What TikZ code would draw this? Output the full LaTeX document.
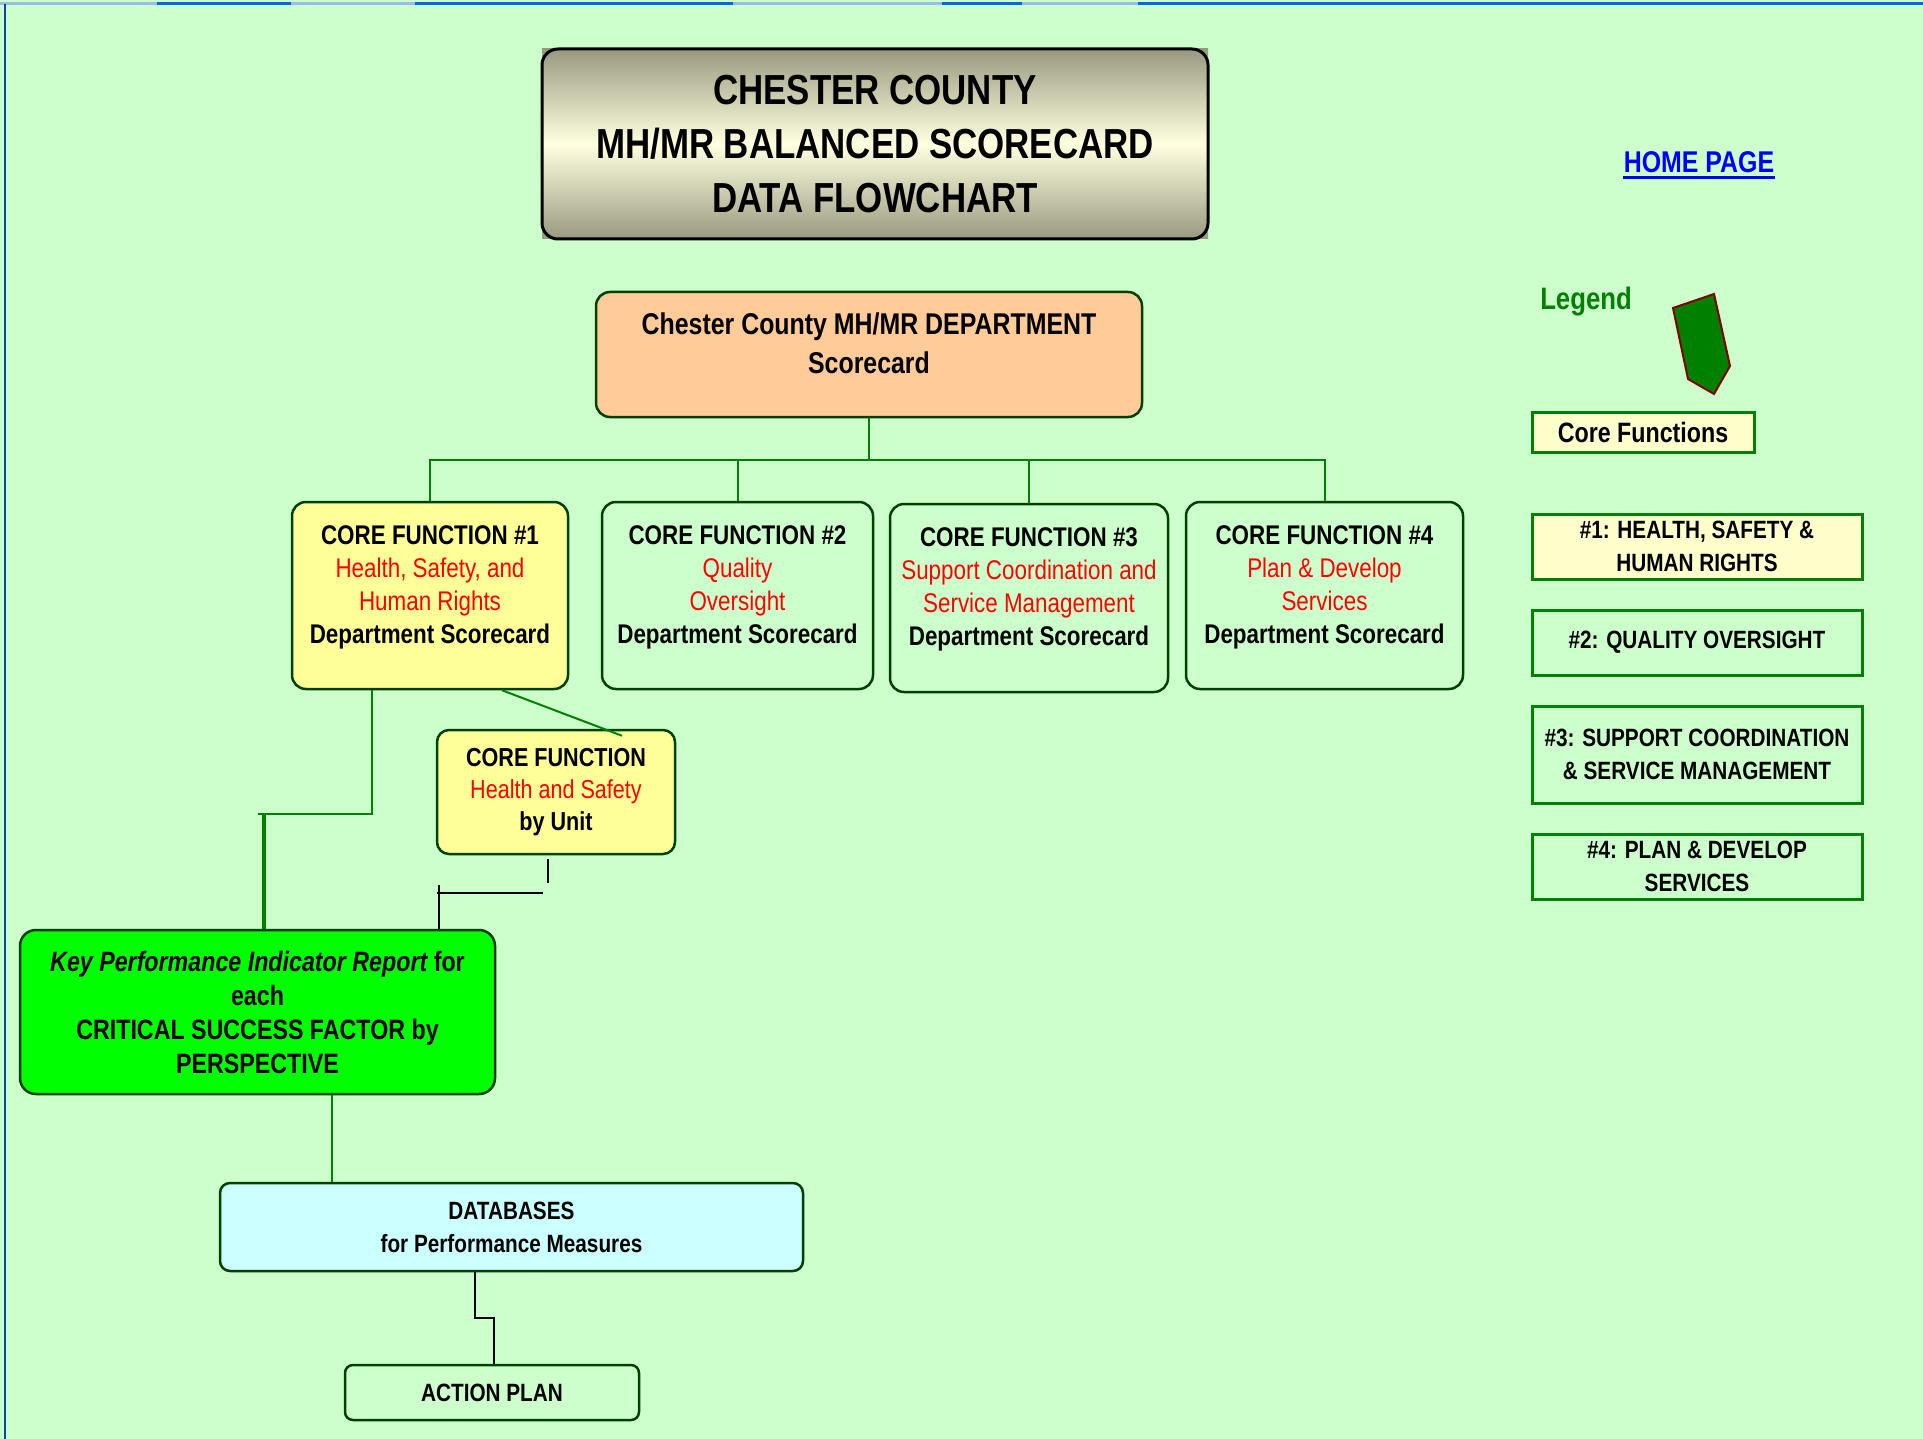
\documentclass[tikz,border=0pt]{standalone}
\usepackage{fontspec}
\setmainfont{Liberation Sans}[FakeStretch=0.83]
\usepackage{tikz}
\definecolor{pagegreen}{HTML}{CCFFCC}
\definecolor{dkgreen}{HTML}{004000}
\definecolor{midgreen}{HTML}{008000}
\definecolor{paleyellow}{HTML}{FFFF99}
\definecolor{creamy}{HTML}{FFFFCC}
\definecolor{peach}{HTML}{FFCC99}
\definecolor{palecyan}{HTML}{CCFFFF}
\definecolor{limegreen}{HTML}{00FF00}
\definecolor{khaki}{HTML}{99997F}
\definecolor{ivory}{HTML}{FFFFE0}
\definecolor{edgeblue}{HTML}{0066EE}
\definecolor{paleblue}{HTML}{99BBEE}
\definecolor{darkred}{HTML}{800000}
\newcommand{\padbottom}[1]{\\[#1]\mbox{}}

\begin{document}
\begin{tikzpicture}[x=1pt,y=-1pt,line width=2pt,
  box/.style={draw=dkgreen,line width=2.5pt,rounded corners=14pt,inner sep=0pt,align=center},
  corebox/.style={box,minimum width=276pt,minimum height=187pt,font=\fontsize{27}{33}\selectfont},
  keybox/.style={draw=midgreen,line width=3pt,inner sep=0pt,minimum width=330pt,align=center,font=\fontsize{25}{33}\selectfont\bfseries},
  wire/.style={draw=midgreen,line width=2pt},
  blackwire/.style={draw=black,line width=2pt}]
  \useasboundingbox (0,0) rectangle (1923,1439);
  \fill[pagegreen] (0,0) rectangle (1923,1439);
  \draw[edgeblue,line width=3pt] (0,4) -- (1923,4);
  \foreach \a/\b in {0/157,291/415,733/942,1022/1138}
    \draw[paleblue,line width=3pt] (\a,4) -- (\b,4);
  \draw[edgeblue!70!black,line width=2pt] (5,4) -- (5,1439);

  % title
  \shade[top color=khaki,bottom color=khaki,middle color=ivory] (542,49) rectangle (1208,239);
  \node (title) [draw,line width=3pt,rounded corners=16pt,top color=khaki,bottom color=khaki,middle color=ivory,
    minimum width=666pt,minimum height=190pt,inner sep=0pt,align=center,font=\fontsize{42}{54}\selectfont\bfseries]
    at (875,144) {CHESTER COUNTY\\MH/MR BALANCED SCORECARD\\DATA FLOWCHART};

  \node (dept) [box,fill=peach,minimum width=546pt,minimum height=125pt,font=\fontsize{30}{39}\selectfont\bfseries]
    at (869,354.5) {Chester County MH/MR DEPARTMENT\\Scorecard\padbottom{-17pt}};

  \node (cf1) [corebox,fill=paleyellow] at (430,595.5)
    {{\bfseries CORE FUNCTION \#1}\\{\color{red}Health, Safety, and}\\{\color{red}Human Rights}\\{\bfseries Department Scorecard}\padbottom{-11pt}};
  \node (cf2) [corebox,minimum width=271pt] at (737.5,595.5)
    {{\bfseries CORE FUNCTION \#2}\\{\color{red}Quality}\\{\color{red}Oversight}\\{\bfseries Department Scorecard}\padbottom{-11pt}};
  \node (cf3) [corebox,minimum width=278pt,minimum height=188pt] at (1029,598)
    {{\bfseries CORE FUNCTION \#3}\\{\color{red}Support Coordination and}\\{\color{red}Service Management}\\{\bfseries Department Scorecard}\padbottom{-11pt}};
  \node (cf4) [corebox,minimum width=277pt] at (1324.5,595.5)
    {{\bfseries CORE FUNCTION \#4}\\{\color{red}Plan \& Develop}\\{\color{red}Services}\\{\bfseries Department Scorecard}\padbottom{-11pt}};

  \node (unit) [box,fill=paleyellow,minimum width=238pt,minimum height=124pt,rounded corners=12pt,font=\fontsize{26}{32}\selectfont]
    at (556,792) {{\bfseries CORE FUNCTION}\\{\color{red}Health and Safety}\\{\bfseries by Unit}};

  \node (kpi) [box,fill=limegreen,minimum width=475pt,minimum height=164pt,rounded corners=16pt,font=\fontsize{28}{34}\selectfont\bfseries]
    at (257.5,1012) {{\itshape Key Performance Indicator Report} for\\each\\CRITICAL SUCCESS FACTOR by\\PERSPECTIVE};

  \node (db) [box,fill=palecyan,minimum width=583pt,minimum height=88pt,rounded corners=10pt,font=\fontsize{25}{33}\selectfont\bfseries]
    at (511.5,1227) {DATABASES\\for Performance Measures};

  \node (action) [box,minimum width=294pt,minimum height=55pt,rounded corners=8pt,font=\fontsize{25}{30}\selectfont\bfseries]
    at (492,1392.5) {ACTION PLAN};

  % legend
  \node (home) [anchor=base,text=blue,inner sep=0pt,font=\fontsize{30}{36}\selectfont\bfseries] at (1699,173) {HOME PAGE};
  \draw[blue,line width=3pt] ([yshift=-4.5pt]home.base west) -- ([yshift=-4.5pt]home.base east);
  \node (legend) [anchor=base,text=midgreen,inner sep=0pt,font=\fontsize{31}{36}\selectfont\bfseries] at (1586,310) {Legend};
  \fill[midgreen,draw=darkred,line width=2pt] (1673,308) -- (1714,294) -- (1730,366) -- (1714,394) -- (1688,379) -- cycle;
  \node (corefn) [draw=midgreen,line width=3pt,fill=creamy,minimum width=222pt,minimum height=40pt,inner sep=0pt,
    font=\fontsize{28}{32}\selectfont\bfseries] at (1643,432) {Core Functions};
  \node (key1) [keybox,fill=creamy,minimum height=65pt] at (1697,546.5) {\#1: HEALTH, SAFETY \&\\HUMAN RIGHTS};
  \node (key2) [keybox,minimum height=65pt] at (1697,642.5) {\#2: QUALITY OVERSIGHT};
  \node (key3) [keybox,minimum height=97pt] at (1697,754.5) {\#3: SUPPORT COORDINATION\\\& SERVICE MANAGEMENT};
  \node (key4) [keybox,minimum height=65pt] at (1697,866.5) {\#4: PLAN \& DEVELOP\\SERVICES};

  % connectors
  \coordinate (bus) at (0,460);
  \draw[wire] (dept.south) -- (dept.south |- bus);
  \draw[wire] (cf1.north) |- (cf4.north |- bus) -- (cf4.north);
  \foreach \n in {cf2,cf3}
    \draw[wire] (\n.north) -- (\n.north |- bus);

  \coordinate (elbow) at (372,814);
  \coordinate (elbowend) at (258,814);
  \coordinate (drop) at (264,814);
  \draw[wire] (cf1.south -| elbow) -- (elbow) -- (elbowend);
  \draw[wire,line width=4pt] (drop) -- (kpi.north -| drop);
  \draw[wire] ([xshift=72pt]cf1.south) -- ([shift={(66,7)}]unit.north);

  \coordinate (ua) at (548,883);
  \coordinate (ub) at (543,893);
  \coordinate (uc) at (437,893);
  \coordinate (ud) at (439,885);
  \draw[blackwire] ([yshift=-4pt]unit.south -| ua) -- (ua);
  \draw[blackwire] (ub) -- (uc);
  \draw[blackwire] (ud) -- (kpi.north -| ud);

  \coordinate (dbfeed) at (332,0);
  \draw[wire] (kpi.south -| dbfeed) -- (db.north -| dbfeed);
  \draw[blackwire] ([xshift=-36.5pt]db.south) -- ++(0,46) -| ([xshift=2pt]action.north);
\end{tikzpicture}
\end{document}
